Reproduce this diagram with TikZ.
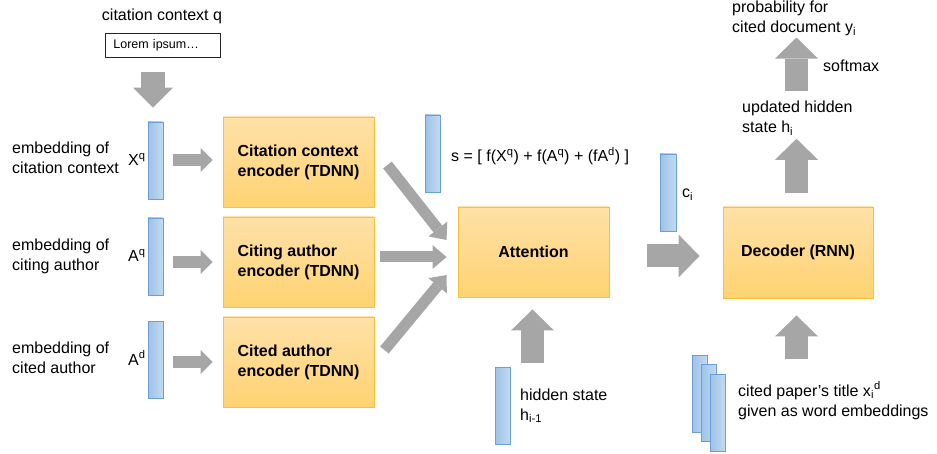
\documentclass[tikz,border=0pt]{standalone}
\usepackage{fontspec}
\setmainfont{Liberation Sans}
\usetikzlibrary{arrows.meta}

\definecolor{flowgray}{HTML}{A6A6A6}
\definecolor{blocktop}{HTML}{FFE1A8}
\definecolor{blockbot}{HTML}{FFD372}
\definecolor{blockline}{HTML}{F8C13A}
\definecolor{vecleft}{HTML}{9DC2E7}
\definecolor{vecright}{HTML}{C3DAF1}
\definecolor{vecline}{HTML}{6A9FD8}

\begin{document}
\begin{tikzpicture}[x=1pt,y=-1pt,
  every node/.style={inner sep=0pt},
  txt/.style={anchor=base west, align=left, font=\fontsize{16}{20}\selectfont},
  vecbar/.style={draw=vecline, line width=0.9pt, left color=vecleft, right color=vecright,
    minimum width=15pt, minimum height=77pt},
  block/.style={draw=blockline, line width=0.9pt, top color=blocktop, bottom color=blockbot,
    minimum width=151pt, minimum height=90pt, align=left,
    font=\fontsize{16}{20}\selectfont\bfseries},
  rowflow/.style={draw=flowgray, line width=12pt, -{Triangle[length=12pt,width=24pt,line width=0pt]}},
  midflow/.style={draw=flowgray, line width=11pt, -{Triangle[length=14pt,width=24pt,line width=0pt]}},
  bigflow/.style={draw=flowgray, line width=23pt, -{Triangle[length=21pt,width=43pt,line width=0pt]}},
  downflow/.style={draw=flowgray, line width=24pt, -{Triangle[length=20pt,width=40pt,line width=0pt]}},
]
\useasboundingbox (0,0) rectangle (937,454);

% input text (multi-line labels are placed by the baseline of their last line)
\node[txt, anchor=base] (ctxq) at (162,21) {citation context q};
\node[draw=black!85, line width=0.8pt, anchor=north west, minimum height=24pt,
  text width=99pt, inner xsep=8pt, align=left,
  font=\fontsize{12.5}{15}\selectfont] (lorem) at (105,33) {Lorem ipsum\ldots};

% embedding vectors
\node[vecbar] (xq) at (155.5,160.5) {};
\node[vecbar] (aq) at (155.5,256.5) {};
\node[vecbar] (ad) at (155.5,360) {};

\node[txt] (lxq) at (12,174) {embedding of\\citation context};
\node[txt] (laq) at (12,271) {embedding of\\citing author};
\node[txt] (lad) at (12,373) {embedding of\\cited author};

\node[txt] (sxq) at (128,166) {X\textsuperscript{q}};
\node[txt] (saq) at (128,262) {A\textsuperscript{q}};
\node[txt] (sad) at (128,365) {A\textsuperscript{d}};

% encoders
\node[block] (enc1) at (298.5,162) {Citation context\\encoder (TDNN)};
\node[block] (enc2) at (298.5,262) {Citing author\\encoder (TDNN)};
\node[block] (enc3) at (298.5,362) {Cited author\\encoder (TDNN)};

% attention
\node[vecbar] (sbar) at (432.5,153.5) {};
\node[txt] (sform) at (451,162) {s = [ f(X\textsuperscript{q}) + f(A\textsuperscript{q}) + (fA\textsuperscript{d}) ]};
\node[block] (att) at (533.5,252) {Attention};

\node[vecbar] (hbar) at (502.5,405.5) {};
\node[txt] (lh) at (520,420) {hidden state\\h\textsubscript{i-1}};

% context vector and decoder
\node[vecbar, minimum width=16pt] (cbar) at (668,192.5) {};
\node[txt] (lc) at (682,198) {c\textsubscript{i}};
\node[block, minimum width=150pt, minimum height=91pt] (dec) at (798,252.5) {Decoder (RNN)};

\node[vecbar] (w1) at (699.5,394) {};
\node[vecbar] (w2) at (708.5,403) {};
\node[vecbar] (w3) at (717.5,412.5) {};
\node[txt] (lw) at (738,416) {cited paper's title x\textsubscript{i}\textsuperscript{d}\\given as word embeddings};

\node[txt] (upd) at (742,133) {updated hidden\\state h\textsubscript{i}};
\node[txt] (smax) at (823,72) {softmax};
\node[txt] (prob) at (732,33) {probability for\\cited document y\textsubscript{i}};

% flows
\draw[downflow] ([shift={(-2.5,14)}]xq.north |- lorem.south) -- ([shift={(-2.5,-14)}]xq.north);

\draw[rowflow] ([shift={(10,-2)}]xq.east |- enc1.west) -- ([shift={(-10,-2)}]enc1.west);
\draw[rowflow] ([shift={(10,0)}]aq.east |- enc2.west) -- ([shift={(-10,0)}]enc2.west);
\draw[rowflow] ([shift={(10,0)}]ad.east |- enc3.west) -- ([shift={(-10,0)}]enc3.west);

\draw[midflow] ([shift={(13,3)}]enc1.east) -- ([shift={(-11,-12)}]att.west);
\draw[midflow] ([shift={(6,-5)}]enc2.east) -- ([shift={(-11,5)}]att.west);
\draw[midflow] ([shift={(10,-12)}]enc3.east) -- ([shift={(-11,23)}]att.west);

\draw[bigflow] ([shift={(38,4)}]att.east) -- ([shift={(-23,4)}]dec.west |- att.east);
\draw[bigflow] ([shift={(-1,-4)}]att.south |- hbar.north) -- ([shift={(-1,12)}]att.south);
\draw[bigflow] ([shift={(-1.5,-5)}]dec.south |- w2.north) -- ([shift={(-1.5,17)}]dec.south);
\draw[bigflow] ([shift={(-1.5,-14)}]dec.north) -- ([shift={(-1.5,3)}]dec.north |- upd.south);
\draw[bigflow] ([shift={(-1.5,-10)}]dec.north |- upd.north) -- ([shift={(-1.5,1)}]dec.north |- prob.south);
\end{tikzpicture}
\end{document}
